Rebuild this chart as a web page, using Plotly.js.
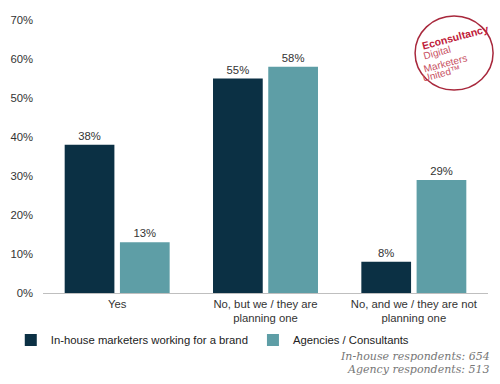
<!DOCTYPE html>
<html>
<head>
<meta charset="utf-8">
<script src="https://cdn.plot.ly/plotly-3.0.1.min.js"></script>
<style>
html,body{margin:0;padding:0;background:#fff;}
#chart{width:500px;height:384px;}
</style>
</head>
<body>
<div id="chart"></div>
<script>
const categories = ["Yes", "No, but we / they are<br>planning one", "No, and we / they are not<br>planning one"];
const seriesNames = ["In-house marketers working for a brand", "Agencies / Consultants"];
const inHouse = [38, 55, 8];
const agencies = [13, 58, 29];
const yTickVals = [0, 10, 20, 30, 40, 50, 60, 70];
const yTickText = ["0%", "10%", "20%", "30%", "40%", "50%", "60%", "70%"];
const footnotes = ["In-house respondents: 654", "Agency respondents: 513"];
const logoLines = ["Econsultancy", "Digital", "Marketers", "United\u2122"];

const colors = ["#0b3044", "#5e9ea6"];
const fontFam = "Liberation Sans, Arial, sans-serif";
const fs = 11.3;

const traces = [inHouse, agencies].map((vals, i) => ({
  type: "bar",
  name: seriesNames[i],
  x: categories,
  y: vals,
  marker: {color: colors[i]},
  text: vals.map(v => v + "%"),
  textposition: "outside",
  textfont: {family: fontFam, size: fs, color: "#333"},
  cliponaxis: false,
  hoverinfo: "none"
}));

const annotations = [
  {xref: "paper", yref: "paper", x: 1.01, y: -0.231, xanchor: "right", yanchor: "middle",
   text: "<i>" + footnotes[0] + "</i>", showarrow: false,
   font: {family: "DejaVu Serif, Liberation Serif, serif", size: 11, color: "#777"}},
  {xref: "paper", yref: "paper", x: 1.01, y: -0.282, xanchor: "right", yanchor: "middle",
   text: "<i>" + footnotes[1] + "</i>", showarrow: false,
   font: {family: "DejaVu Serif, Liberation Serif, serif", size: 11, color: "#777"}}
];

// logo text
const logoX = 0.9238, logoY = 0.879;
const logoOffsets = [[1, 16], [-17, 1], [-9, -10], [-13, -20]];
logoLines.forEach((t, i) => {
  annotations.push({
    xref: "paper", yref: "paper", x: logoX, y: logoY, xanchor: "center", yanchor: "middle",
    xshift: logoOffsets[i][0], yshift: logoOffsets[i][1],
    text: i === 0 ? "<b>" + t + "</b>" : t, showarrow: false, textangle: -15,
    font: {family: fontFam, size: i === 0 ? 10.5 : 10, color: i === 0 ? "#c0203a" : "#c8505f"}
  });
});

const layout = {
  width: 500, height: 384,
  margin: {l: 42, r: 12, t: 20, b: 91},
  paper_bgcolor: "#fff", plot_bgcolor: "#fff",
  barmode: "group",
  bargap: 0.255,
  bargroupgap: 0.1,
  font: {family: fontFam, size: fs, color: "#333"},
  showlegend: true,
  legend: {orientation: "h", x: -0.07, y: -0.172, xanchor: "left", yanchor: "middle",
           bgcolor: "rgba(0,0,0,0)",
           font: {family: fontFam, size: fs, color: "#222"}, itemwidth: 30,
           traceorder: "normal"},
  xaxis: {showline: true, linecolor: "#bfbfbf", linewidth: 1, ticks: "",
          tickfont: {family: fontFam, size: fs, color: "#333"}, fixedrange: true},
  yaxis: {range: [0, 70], tickvals: yTickVals, ticktext: yTickText, showgrid: false,
          zeroline: false, showline: false, ticks: "", ticklabelstandoff: 9,
          tickfont: {family: fontFam, size: fs, color: "#333"}, fixedrange: true},
  shapes: [{type: "circle", xref: "paper", yref: "paper", xsizemode: "pixel", ysizemode: "pixel",
            xanchor: logoX, yanchor: logoY, x0: -39, x1: 39, y0: -37, y1: 37,
            line: {color: "#a8283c", width: 1.5}, fillcolor: "rgba(0,0,0,0)"}],
  annotations: annotations
};

Plotly.newPlot("chart", traces, layout, {displayModeBar: false, staticPlot: true});
</script>
</body>
</html>
